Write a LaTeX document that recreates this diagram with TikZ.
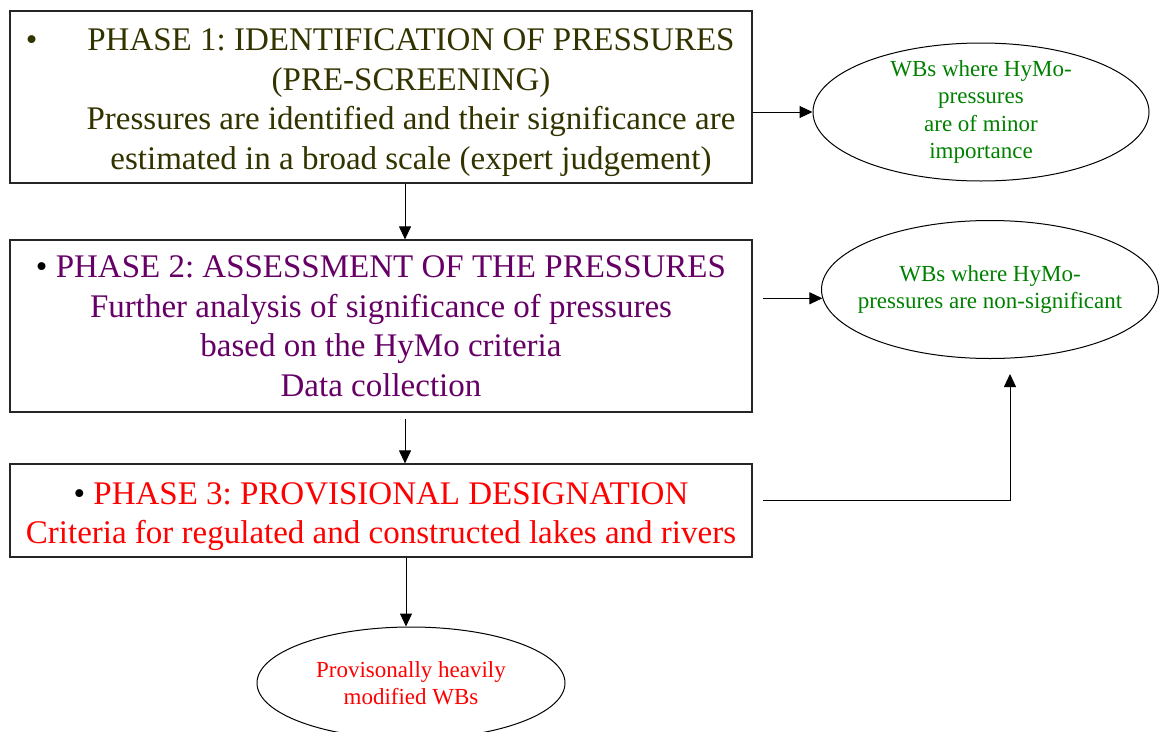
\documentclass[tikz,border=0pt]{standalone}
\usepackage{fontspec}
\setmainfont{Liberation Serif}
\frenchspacing
\usetikzlibrary{shapes.geometric, arrows.meta}

\definecolor{phaseolive}{RGB}{51,51,0}
\definecolor{phasepurple}{RGB}{102,0,102}
\definecolor{phasered}{RGB}{255,0,0}
\definecolor{wbgreen}{RGB}{0,128,0}

\tikzset{
	phasebox/.style={draw=black!85, line width=1.2pt, rectangle, minimum width=742pt, inner sep=0pt, font=\fontsize{33}{39.5}\selectfont},
	wboval/.style={draw, ellipse, line width=1pt, inner sep=-30pt, align=center, text=wbgreen, font=\fontsize{23}{27.5}\selectfont},
}

\begin{document}
\begin{tikzpicture}[x=1pt, y=-1pt, line width=1pt, >={Triangle[length=13pt, width=12pt]}]
	\useasboundingbox (0, 0) rectangle (1161, 731);
	% the three phases
	\node (phaseone) at (381, 97)		[phasebox, minimum height=172pt, text=phaseolive]
		{\hspace*{60pt}\begin{tabular}{@{}c@{}}\rule{0pt}{38pt}\llap{•\hspace{50pt}}PHASE 1: IDENTIFICATION OF PRESSURES\\ (PRE-SCREENING)\\ Pressures are identified and their significance are\\ estimated in a broad scale (expert judgement)\end{tabular}};
	\node (phasetwo) at (381, 326)		[phasebox, minimum height=172pt, align=center, text=phasepurple]
		{\textcolor{black}{•} PHASE 2: ASSESSMENT OF THE PRESSURES\\ Further analysis of significance of pressures\\ based on the HyMo criteria\\ Data collection};
	\node (phasethree) at (381, 510.5)	[phasebox, minimum height=93pt, align=center, text=phasered]
		{\rule{0pt}{34pt}\textcolor{black}{•} PHASE 3: PROVISIONAL DESIGNATION\\ Criteria for regulated and constructed lakes and rivers};
	% `wboval` for the outcomes
	\node (minor) at (981, 112)		[wboval, minimum width=336pt, minimum height=138pt]	{WBs where HyMo-\\ pressures\\ are of minor\\ importance};
	\node (nonsig) at (990, 289.5)	[wboval, minimum width=337pt, minimum height=138pt]	{WBs where HyMo-\\ pressures are non-significant};
	\node (provis) at (411, 683)	[wboval, minimum width=308pt, minimum height=112pt, text=phasered]	{Provisonally heavily\\ modified WBs};
	\draw[->] (phaseone.east |- minor.west)	--	(minor.west);
	\draw[->] ([xshift=24pt]phaseone.south)	--	([xshift=24pt]phasetwo.north);
	\draw[->] ([xshift=10pt]phasetwo.east |- nonsig.183.5)	--	(nonsig.183.5);
	\draw[->] ([xshift=24pt, yshift=-6pt]phasetwo.south)	--	([xshift=24pt]phasethree.north);
	\draw[->] ([xshift=10pt, yshift=10pt]phasethree.east)	-|	([xshift=20pt, yshift=-15pt]nonsig.south);
	\draw[->] ([xshift=25pt]phasethree.south)	--	([xshift=25pt]phasethree.south |- provis.north);
\end{tikzpicture}
\end{document}
